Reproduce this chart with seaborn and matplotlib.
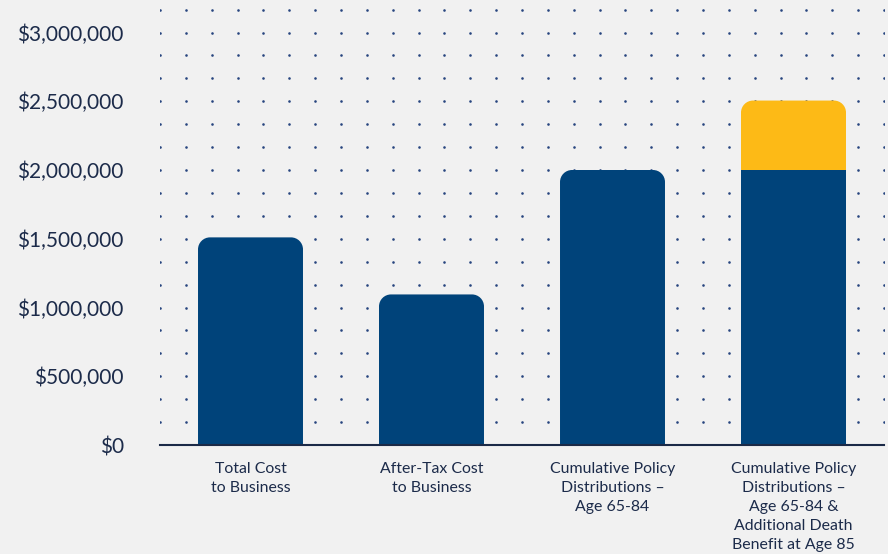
import numpy as np
import pandas as pd
import matplotlib
matplotlib.use("Agg")
import matplotlib.pyplot as plt
from matplotlib.path import Path
from matplotlib.patches import PathPatch
from matplotlib.ticker import FuncFormatter
import seaborn as sns

categories = [
    "Total Cost\nto Business",
    "After-Tax Cost\nto Business",
    "Cumulative Policy\nDistributions –\nAge 65-84",
    "Cumulative Policy\nDistributions –\nAge 65-84 &\nAdditional Death\nBenefit at Age 85",
]
base_values = [1510000, 1095000, 2000000, 2000000]
extra_values = [0, 0, 0, 505000]
y_ticks = [0, 500000, 1000000, 1500000, 2000000, 2500000, 3000000]

NAVY = "#00437a"
YELLOW = "#fdba16"
TEXT = "#1c2b4a"
BG = "#f1f1f1"

sns.set_theme(style="white")
plt.rcParams["font.family"] = ["Lato", "DejaVu Sans"]

fig = plt.figure(figsize=(8.88, 5.54), dpi=100, facecolor=BG)
ax = fig.add_axes([160 / 888, 109 / 554, 724 / 888, 445 / 554])
ax.set_facecolor(BG)

df = pd.DataFrame({"cat": categories, "base": base_values, "extra": extra_values})
df["total"] = df["base"] + df["extra"]
df_extra = df[df["extra"] > 0]

ymax = 445 / 137.5 * 1e6

# dotted grid (decoration)
gx = -0.5 + np.arange(0, 29) / 7
gy = np.arange(0, 20) * (500000 / 3)
gy = gy[gy < ymax]
GX, GY = np.meshgrid(gx, gy)
ax.scatter(GX.ravel(), GY.ravel(), s=3.5, color="#27457f", linewidths=0, zorder=0)

sns.barplot(data=df_extra, x="cat", y="total", order=categories, color=YELLOW,
            saturation=1, width=0.58, ax=ax, zorder=2)
n_yellow = len(ax.patches)
sns.barplot(data=df, x="cat", y="base", order=categories, color=NAVY,
            saturation=1, width=0.58, ax=ax, zorder=3)

ax.set_xlim(-0.5, 3.5)
ax.set_ylim(0, ymax)

# round the top corners
fig.canvas.draw()
px_x = 1 / 181.0
px_y = 1e6 / 137.5
r = 12
rx, ry = r * px_x, r * px_y
patches = list(ax.patches)
for i, p in enumerate(patches):
    x0, y0 = p.get_x(), p.get_y()
    w, h = p.get_width(), p.get_height()
    is_yellow = i < n_yellow
    idx = int(round(x0 + w / 2))
    round_top = is_yellow or df["extra"].iloc[idx] == 0
    k = 0.5523
    if round_top:
        verts = [
            (x0, y0), (x0, y0 + h - ry),
            (x0, y0 + h - ry + k * ry), (x0 + rx - k * rx, y0 + h), (x0 + rx, y0 + h),
            (x0 + w - rx, y0 + h),
            (x0 + w - rx + k * rx, y0 + h), (x0 + w, y0 + h - ry + k * ry), (x0 + w, y0 + h - ry),
            (x0 + w, y0), (x0, y0),
        ]
        codes = [Path.MOVETO, Path.LINETO,
                 Path.CURVE4, Path.CURVE4, Path.CURVE4,
                 Path.LINETO,
                 Path.CURVE4, Path.CURVE4, Path.CURVE4,
                 Path.LINETO, Path.CLOSEPOLY]
    else:
        verts = [(x0, y0), (x0, y0 + h), (x0 + w, y0 + h), (x0 + w, y0), (x0, y0)]
        codes = [Path.MOVETO, Path.LINETO, Path.LINETO, Path.LINETO, Path.CLOSEPOLY]
    pp = PathPatch(Path(verts, codes), facecolor=p.get_facecolor(), edgecolor="none",
                   zorder=p.get_zorder(), antialiased=True)
    p.remove()
    ax.add_patch(pp)

ax.set_yticks(y_ticks)
ax.yaxis.set_major_formatter(FuncFormatter(lambda v, _: f"${v:,.0f}"))
ax.set_xlabel("")
ax.set_ylabel("")
ax.tick_params(axis="y", length=0, pad=26, labelsize=15, labelcolor=TEXT)
ax.tick_params(axis="x", length=0, pad=12.5, labelsize=11.4, labelcolor=TEXT)
for lbl in ax.get_xticklabels():
    lbl.set_linespacing(1.44)
    lbl.set_horizontalalignment("center")
for lbl in ax.get_yticklabels():
    lbl.set_horizontalalignment("right")

for s in ["top", "right", "left"]:
    ax.spines[s].set_visible(False)
ax.spines["bottom"].set_color("#1b2a47")
ax.spines["bottom"].set_linewidth(1.5)
ax.spines["bottom"].set_zorder(5)

fig.savefig("out.png", dpi=100, facecolor=BG)
